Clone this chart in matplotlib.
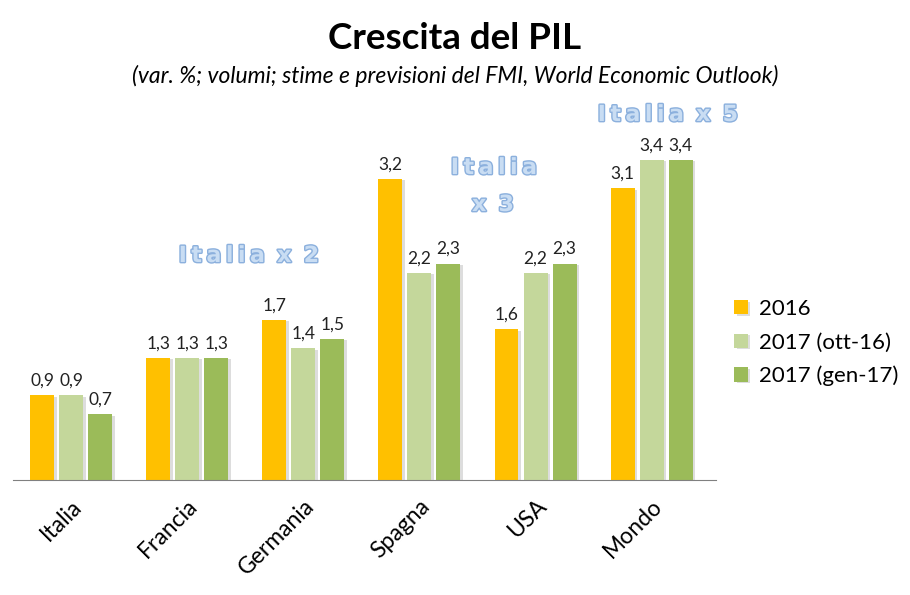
import matplotlib.pyplot as plt
import matplotlib.patheffects as pe
import numpy as np

plt.rcParams['font.family'] = ['Lato', 'DejaVu Sans']

paesi = ["Italia", "Francia", "Germania", "Spagna", "USA", "Mondo"]
serie = ["2016", "2017 (ott-16)", "2017 (gen-17)"]
pil_2016 = [0.9, 1.3, 1.7, 3.2, 1.6, 3.1]
pil_2017_ott16 = [0.9, 1.3, 1.4, 2.2, 2.2, 3.4]
pil_2017_gen17 = [0.7, 1.3, 1.5, 2.3, 2.3, 3.4]
colori = ["#FFC000", "#C4D79B", "#9BBB59"]

fig = plt.figure(figsize=(9.1, 5.95), dpi=100)
ax = fig.add_axes([0.0143, 0.193, 0.772, 0.622])

x = np.arange(len(paesi))
step = 0.25
width = 0.206
shadow = [pe.SimplePatchShadow(offset=(2, -1), shadow_rgbFace="#aaaaaa", alpha=0.4), pe.Normal()]

for i, (vals, col, lab) in enumerate(zip([pil_2016, pil_2017_ott16, pil_2017_gen17], colori, serie)):
    bars = ax.bar(x + (i - 1) * step, vals, width, color=col, label=lab, zorder=2)
    for b in bars:
        b.set_path_effects(shadow)
    for xi, v in zip(x + (i - 1) * step, vals):
        ax.text(xi, v + 0.07, f"{v:.1f}".replace(".", ","), ha="center", va="bottom",
                fontsize=12.5, color="#222222")

ax.set_xlim(-0.5, 5.55)
ax.set_ylim(0, 3.93)
for s in ["top", "right", "left"]:
    ax.spines[s].set_visible(False)
ax.spines["bottom"].set_color("#808080")
ax.set_yticks([])
ax.set_xticks(x)
ax.set_xticklabels(paesi, rotation=45, ha="right", rotation_mode="anchor", fontsize=16.5)
ax.tick_params(axis="x", length=0, pad=11)

fig.text(0.5, 0.935, "Crescita del PIL", ha="center", va="center", fontsize=26.5, fontweight="bold")
fig.text(0.5, 0.873, "(var. %; volumi; stime e previsioni del FMI, World Economic Outlook)",
         ha="center", va="center", fontsize=16.5, style="italic")

# scritte "Italia x N" con contorno blu
sp = "\u2009"
glow = [pe.Stroke(linewidth=2.0, foreground="#5B8FCF", alpha=0.7), pe.Normal()]
note = dict(ha="center", va="center", fontsize=16, fontweight="bold", color="#C9DDF3",
            family="DejaVu Sans", path_effects=glow)
italia = sp.join("Italia")
fig.text(249 / 910, 1 - 256 / 595, italia + " " + sp + "x" + sp + " 2", **note)
fig.text(494 / 910, 1 - 168 / 595, italia, **note)
fig.text(493 / 910, 1 - 205 / 595, "x" + sp + " 3", **note)
fig.text(668 / 910, 1 - 115 / 595, italia + " " + sp + "x" + sp + " 5", **note)

fig.legend(loc="center left", bbox_to_anchor=(0.785, 0.424), frameon=False, fontsize=16,
           handlelength=0.6, handleheight=0.6, handletextpad=0.5, labelspacing=0.6)

fig.savefig("out.png", dpi=100)
